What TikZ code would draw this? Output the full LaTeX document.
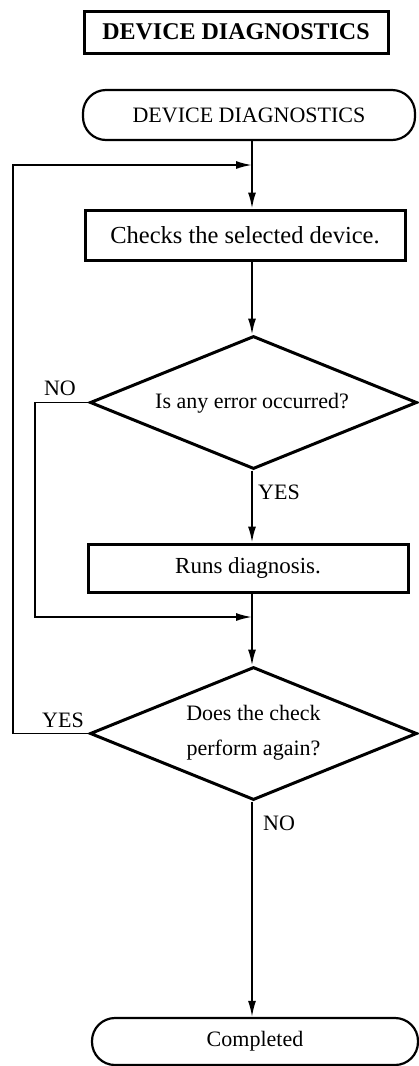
\documentclass[tikz,border=0pt]{standalone}
\usepackage{fontspec}
\setmainfont{Liberation Serif}
\usetikzlibrary{shapes.geometric,arrows.meta}
\begin{document}
\begin{tikzpicture}[x=1pt,y=-1pt,
  txt/.style={font=\fontsize{22}{26}\selectfont},
  procbox/.style={draw, line width=3pt, inner sep=0pt},
  term/.style={draw, line width=2.2pt, rounded corners=23pt, inner sep=0pt},
  decision/.style={draw, diamond, line width=3pt, inner sep=0pt, minimum width=327pt, minimum height=133pt},
  conn/.style={line width=1.8pt},
  arr/.style={conn, -{Latex[length=16pt,width=8pt]}},
  lbl/.style={font=\fontsize{22}{26}\selectfont, inner sep=0pt}
]
\useasboundingbox (0,0) rectangle (419,1066);
\node[procbox, minimum width=304pt, minimum height=42pt, font=\fontsize{24}{28}\selectfont\bfseries] (title) at (236,32) {DEVICE DIAGNOSTICS};
\node[term, txt, minimum width=332pt, minimum height=50pt] (start) at (249,115) {DEVICE DIAGNOSTICS};
\coordinate (j1) at (252,165);
\node[procbox, font=\fontsize{24.5}{28}\selectfont, minimum width=320pt, minimum height=50pt] (box1) at (245,235) {Checks the selected device.};
\node[decision] (d1) at (253.5,402.5) {};
\node[txt, inner sep=0pt] (d1t) at (252,403) {Is any error occurred?};
\node[procbox, font=\fontsize{23}{27}\selectfont, minimum width=320pt, minimum height=48pt] (box2) at (248,568) {Runs diagnosis.};
\coordinate (j2) at (252,617);
\node[decision] (d2) at (253.5,733.5) {};
\node[txt, inner sep=0pt, align=center] (d2t) at (253.5,733) {Does the check\\[9pt]perform again?};
\node[term, txt, minimum width=326pt, minimum height=47pt] (end) at (255,1041.5) {Completed};
\coordinate (c1) at (13,0);
\coordinate (c2) at (35,0);
% main flow
\draw[arr] (start.south -| j1) -- (box1.north -| j1);
\draw[arr] (box1.south -| j1) -- (d1.north -| j1);
\draw[arr] (d1.south -| j1) -- (box2.north -| j1);
\draw[arr] (box2.south -| j1) -- (d2.north -| j1);
\draw[arr] (d2.south -| j1) -- (end.north -| j1);
% NO branch of d1
\draw[arr] (d1.west) -- (d1.west -| c2) -- (j2 -| c2) -- (j2);
% YES loop of d2
\draw[arr] (d2.west) -- (d2.west -| c1) -- (j1 -| c1) -- (j1);
% labels
\node[lbl] (no1) at (60,388) {NO};
\node[lbl, anchor=west] (yes1) at (258,492) {YES};
\node[lbl] (yes2) at (63,720) {YES};
\node[lbl, anchor=west] (no2) at (263,823) {NO};
\end{tikzpicture}
\end{document}
